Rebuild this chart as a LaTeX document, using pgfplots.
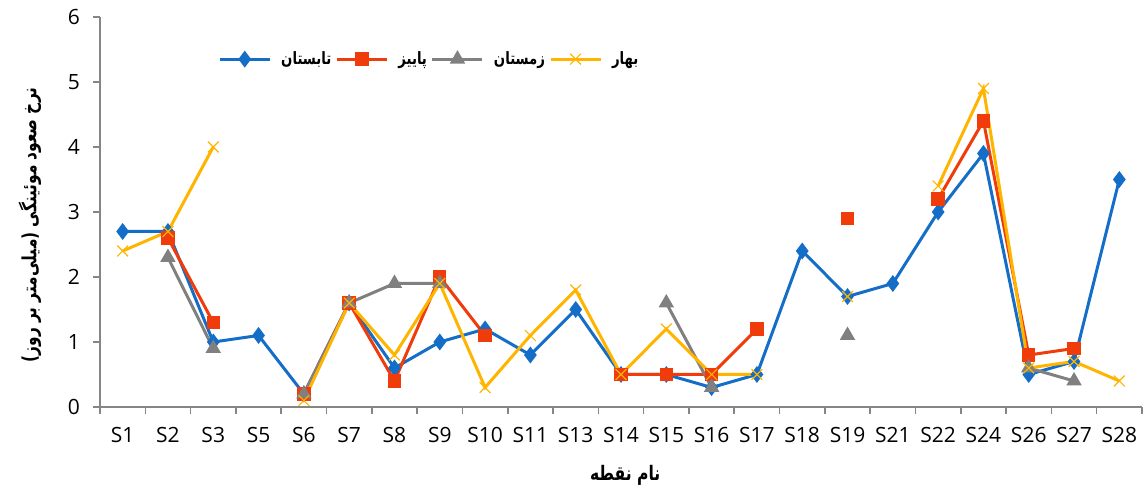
\documentclass[border=0pt]{standalone}
\usepackage{fontspec}
\setmainfont{Open Sans}
\newfontfamily\arabicfont[Script=Arabic, FakeStretch=0.78]{DejaVu Sans}
\TeXXeTstate=1
\usepackage{pgfplots}
\usepackage{pgfplotstable}
\pgfplotsset{compat=1.18}
\definecolor{cblue}{RGB}{20,110,200}
\definecolor{cred}{RGB}{240,60,10}
\definecolor{cgray}{RGB}{128,128,128}
\definecolor{corange}{RGB}{255,180,0}
\definecolor{caxis}{RGB}{134,134,134}
\pgfplotstableread{
x summer autumn winter spring
0 2.7 nan nan 2.4
1 2.7 2.6 2.3 2.7
2 1.0 1.3 0.9 4.0
3 1.1 nan nan nan
4 0.2 0.2 0.2 0.1
5 1.6 1.6 1.6 1.6
6 0.6 0.4 1.9 0.8
7 1.0 2.0 1.9 1.9
8 1.2 1.1 nan 0.3
9 0.8 nan nan 1.1
10 1.5 nan nan 1.8
11 0.5 0.5 nan 0.5
12 0.5 0.5 1.6 1.2
13 0.3 0.5 0.3 0.5
14 0.5 1.2 nan 0.5
15 2.4 nan nan nan
16 1.7 2.9 1.1 1.7
17 1.9 nan nan nan
18 3.0 3.2 nan 3.4
19 3.9 4.4 nan 4.9
20 0.5 0.8 0.6 0.6
21 0.7 0.9 0.4 0.7
22 3.5 nan nan 0.4
}\data
\begin{document}
\begin{tikzpicture}
\useasboundingbox (-50pt,-42pt) rectangle (523.5pt,203.5pt);
\begin{axis}[
  at={(0,0)}, anchor=south west,
  scale only axis, width=521pt, height=195pt,
  xmin=-0.5, xmax=22.5, ymin=0, ymax=6,
  axis lines*=left,
  axis line style={caxis, line width=0.8pt, -},
  xtick={0,...,22},
  xticklabels={S1,S2,S3,S5,S6,S7,S8,S9,S10,S11,S13,S14,S15,S16,S17,S18,S19,S21,S22,S24,S26,S27,S28},
  major x tick style={draw=none},
  minor xtick={-0.5,0.5,...,22.5},
  minor tick length=3.5pt,
  minor x tick style={caxis, line width=0.8pt},
  ytick={0,...,6},
  major tick length=3.5pt,
  y tick style={caxis, line width=0.8pt},
  tick align=outside,
  /pgf/number format/assume math mode=true,
  tick label style={font=\fontsize{10.5}{12}\selectfont, text=black},
  xticklabel style={yshift=-3pt},
  yticklabel style={xshift=-3pt},
  unbounded coords=jump,
  clip=false,
  xlabel={\arabicfont\bfseries\beginR نام نقطه\endR},
  xlabel style={at={(axis description cs:0.504,-0.174)}, anchor=center, font=\fontsize{10}{12}\selectfont},
  ylabel={\arabicfont\bfseries\beginR نرخ صعود موئینگی (میلی‌متر بر روز)\endR},
  ylabel style={at={(axis description cs:-0.0672,0.467)}, anchor=center, font=\fontsize{9.8}{12}\selectfont},
  legend columns=4,
  legend style={draw=none, fill=none, at={(axis description cs:0.317,0.892)}, anchor=center,
    font=\fontsize{8.5}{10}\selectfont,
    /tikz/every even column/.append style={column sep=0pt},
    /tikz/every odd column/.append style={column sep=3pt}},
  legend image code/.code={\draw[mark repeat=2,mark phase=2] plot coordinates {(0pt,0pt)(12.5pt,0pt)(25pt,0pt)};},
  every axis plot/.append style={line width=1.5pt},
]
\addplot[cblue, mark=diamond*, mark size=3pt, mark options={solid}] table[x=x,y=summer]{\data};
\addlegendentry{\arabicfont\bfseries\beginR تابستان\endR}
\addplot[cred, mark=square*, mark size=2.6pt] table[x=x,y=autumn]{\data};
\addlegendentry{\arabicfont\bfseries\beginR پاییز\endR}
\addplot[cgray, mark=triangle*, mark size=3pt] table[x=x,y=winter]{\data};
\addlegendentry{\arabicfont\bfseries\beginR زمستان\endR}
\addplot[corange, mark=x, mark size=3.8pt, mark options={line width=0.6pt}] table[x=x,y=spring]{\data};
\addlegendentry{\arabicfont\bfseries\beginR بهار\endR}
\end{axis}
\end{tikzpicture}
\end{document}
